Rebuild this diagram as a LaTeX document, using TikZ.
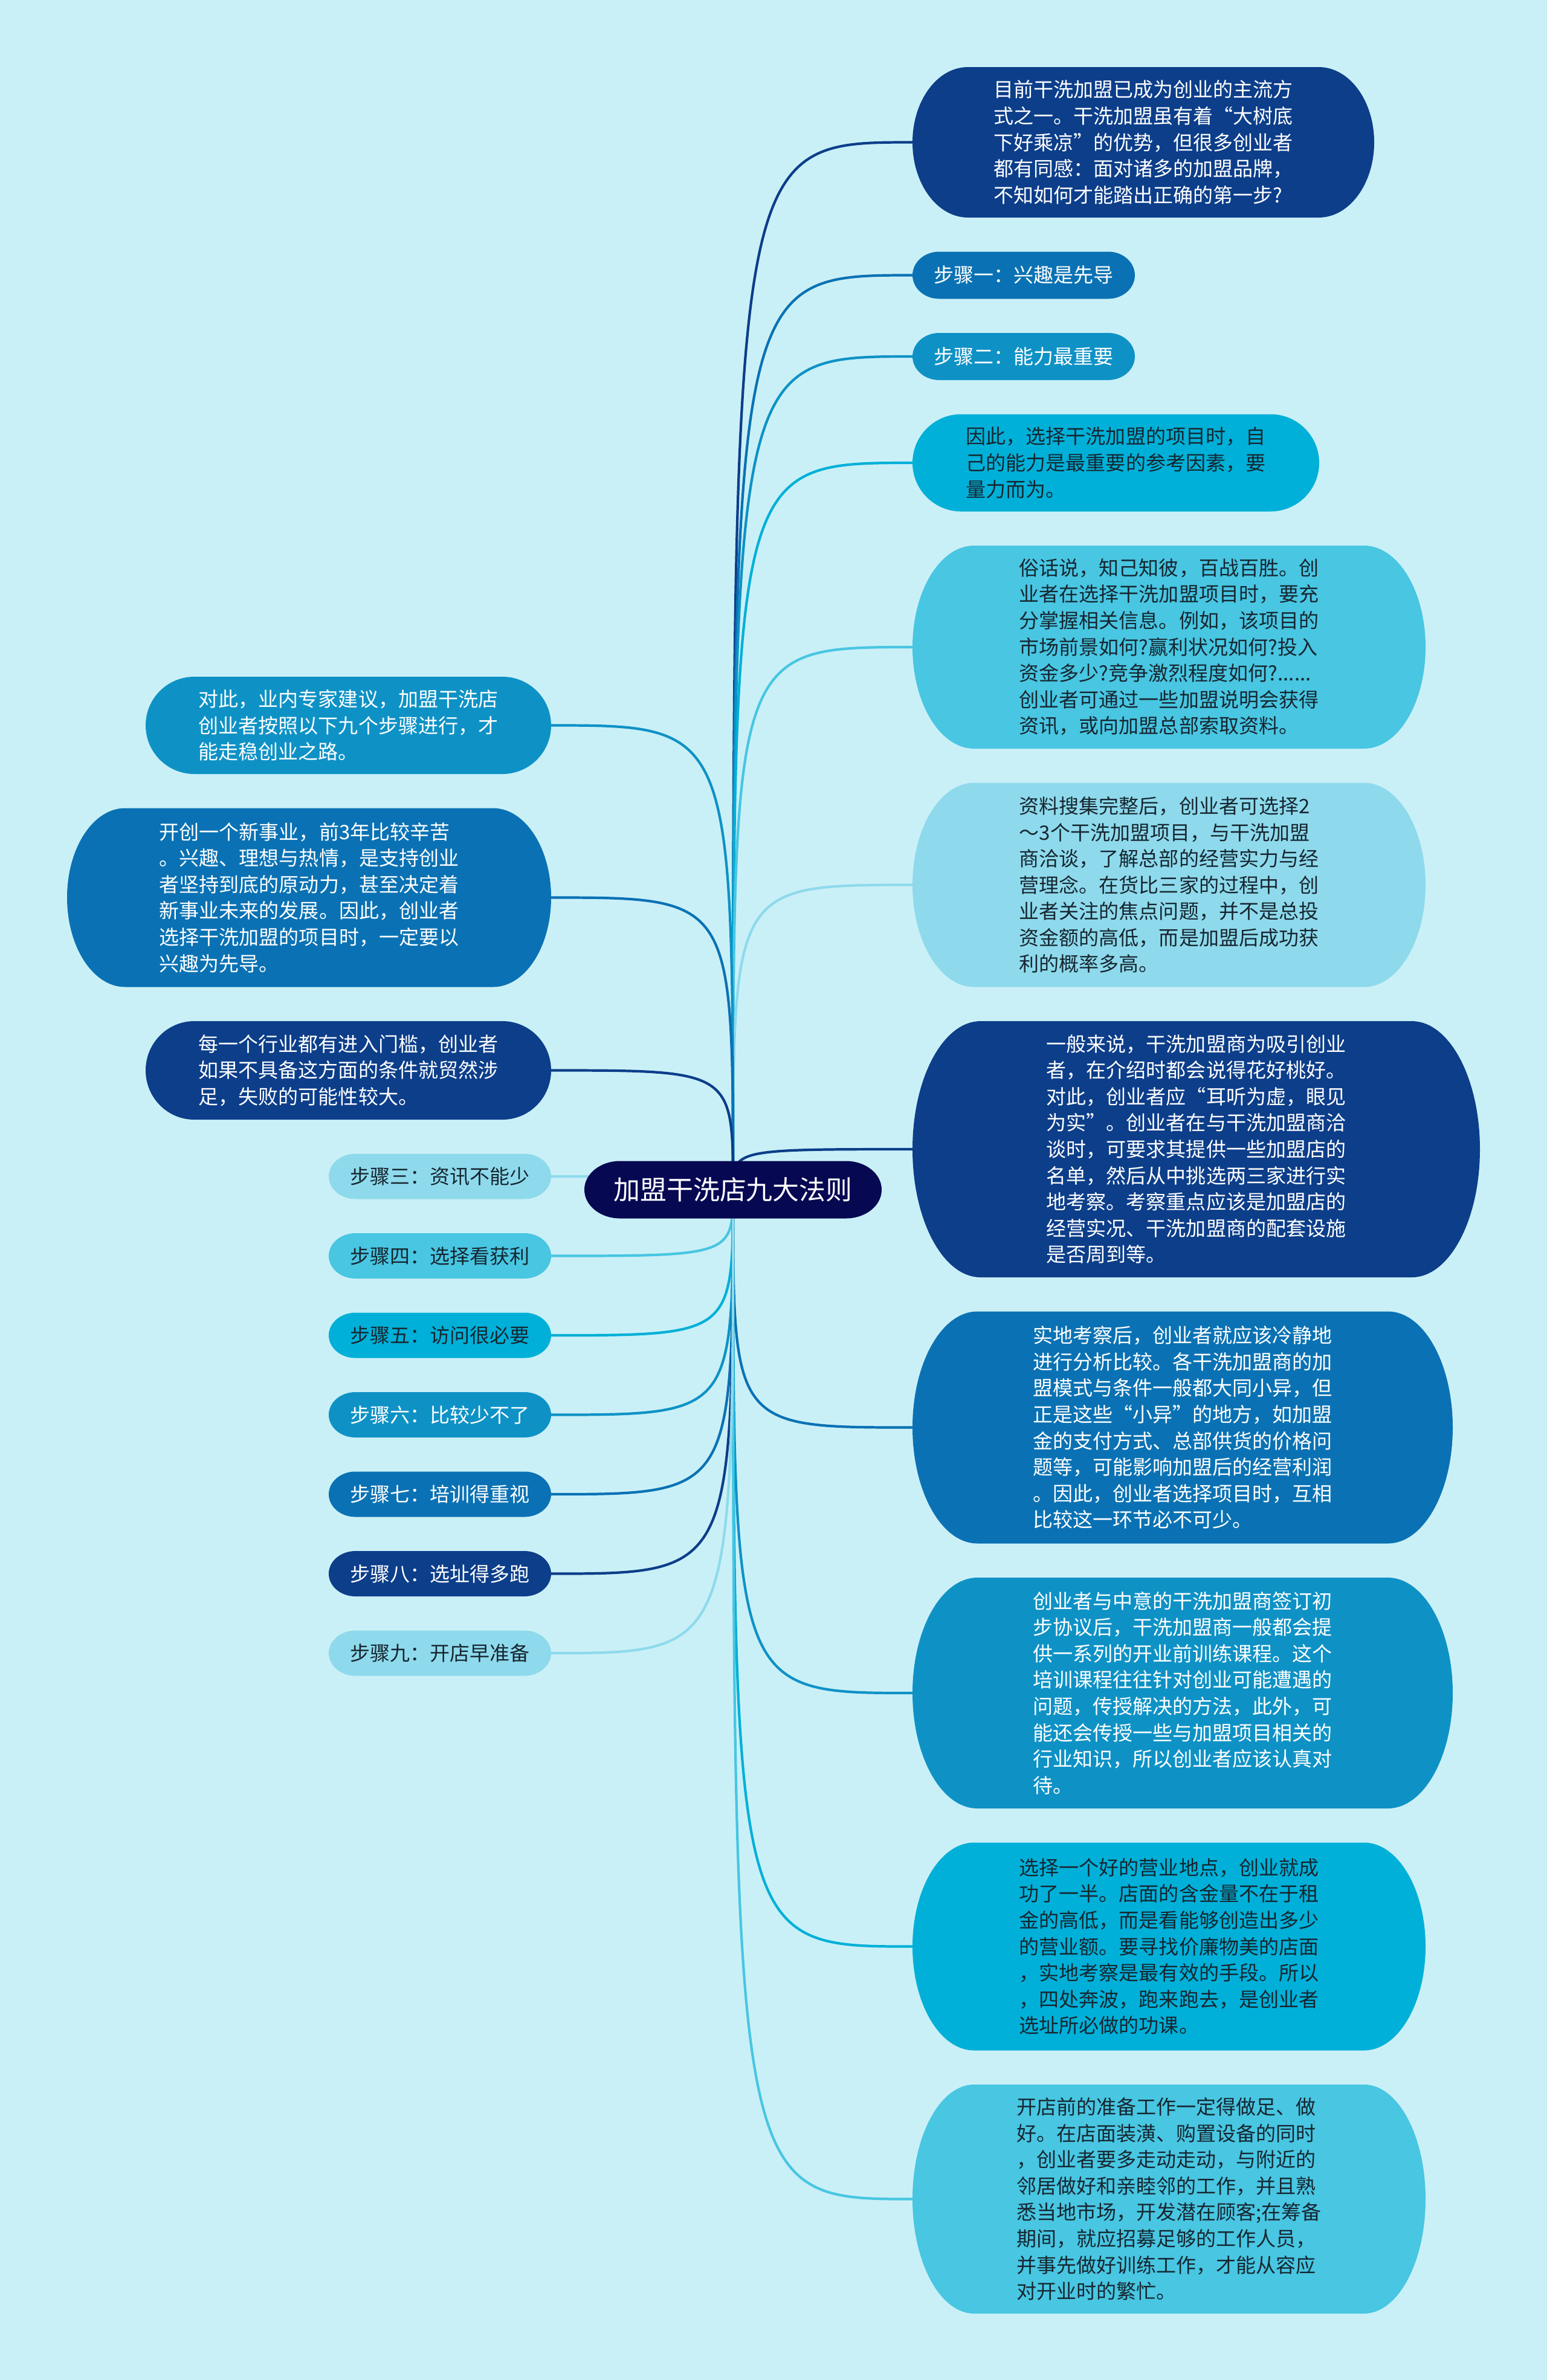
\documentclass[tikz,border=0pt]{standalone}
\usepackage{fontspec}
\setmainfont{Noto Sans CJK SC}
\usepackage{tikz}
\usetikzlibrary{positioning,calc}
\definecolor{mapbg}{RGB}{202,240,247}
\definecolor{rootnavy}{RGB}{6,8,82}
\definecolor{deepblue}{RGB}{12,62,138}
\definecolor{midblue}{RGB}{10,114,180}
\definecolor{skyblue}{RGB}{14,146,198}
\definecolor{cyanblue}{RGB}{0,176,216}
\definecolor{lightcyan}{RGB}{72,198,226}
\definecolor{paleblue}{RGB}{142,218,236}
\definecolor{inkdark}{RGB}{22,38,48}
\pgfdeclarelayer{bg}
\pgfdeclarelayer{edges}
\pgfdeclarelayer{bubbles}
\pgfsetlayers{bg,edges,bubbles,main}
% pill shaped backdrop for a named node
\newcommand{\pill}[2]{%
  \fill[#2] let \p1=(#1.north west), \p2=(#1.south east),
    \n1={0.12*(\x2-\x1)}, \n2={0.5*(\y1-\y2)} in
    (\x1+\n1,\y1) -- (\x2-\n1,\y1)
    arc[start angle=90, end angle=-90, x radius=\n1, y radius=\n2]
    -- (\x1+\n1,\y2)
    arc[start angle=270, end angle=90, x radius=\n1, y radius=\n2] -- cycle;}

\begin{document}
\begin{tikzpicture}[node distance=0.565cm,
  every node/.style={inner sep=0pt, outer sep=0pt},
  bubble/.style={align=left, font=\fontsize{9.4pt}{12.4pt}\selectfont},
  tag/.style={font=\fontsize{9.4pt}{12.4pt}\selectfont,
              minimum width=3.68cm, minimum height=0.75cm},
  onDark/.style={text=white},
  onLight/.style={text=inkdark},
  branch/.style={line width=1.2pt}]
\useasboundingbox (0,0) rectangle (25.6,-39.39);
\begin{pgfonlayer}{bg}
\fill[mapbg] (0,0) rectangle (25.6,-39.39);
\end{pgfonlayer}

\node[onDark, font=\fontsize{12.5pt}{15pt}\selectfont,
      minimum width=4.92cm, minimum height=0.95cm] (root) at (12.13,-19.69) {加盟干洗店九大法则};

% right column
\node[bubble, onDark, minimum width=7.64cm, minimum height=2.49cm,
      anchor=north west] (r1) at (15.10,-1.11)
  {目前干洗加盟已成为创业的主流方\\式之一。干洗加盟虽有着“大树底\\下好乘凉”的优势，但很多创业者\\都有同感：面对诸多的加盟品牌，\\不知如何才能踏出正确的第一步?};
\node[tag, onDark, minimum height=0.78cm, below=of r1.south west, anchor=north west] (r2) {步骤一：兴趣是先导};
\node[tag, onDark, minimum height=0.78cm, below=of r2.south west, anchor=north west] (r3) {步骤二：能力最重要};
\node[bubble, onLight, minimum width=6.73cm, minimum height=1.61cm,
      below=of r3.south west, anchor=north west] (r4)
  {因此，选择干洗加盟的项目时，自\\己的能力是最重要的参考因素，要\\量力而为。};
\node[bubble, onLight, minimum width=8.49cm, minimum height=3.36cm,
      below=of r4.south west, anchor=north west] (r5)
  {俗话说，知己知彼，百战百胜。创\\业者在选择干洗加盟项目时，要充\\分掌握相关信息。例如，该项目的\\市场前景如何?赢利状况如何?投入\\资金多少?竞争激烈程度如何?......\\创业者可通过一些加盟说明会获得\\资讯，或向加盟总部索取资料。};
\node[bubble, onLight, minimum width=8.49cm, minimum height=3.38cm,
      below=of r5.south west, anchor=north west] (r6)
  {资料搜集完整后，创业者可选择2\\～3个干洗加盟项目，与干洗加盟\\商洽谈，了解总部的经营实力与经\\营理念。在货比三家的过程中，创\\业者关注的焦点问题，并不是总投\\资金额的高低，而是加盟后成功获\\利的概率多高。};
\node[bubble, onDark, minimum width=9.39cm, minimum height=4.24cm,
      below=of r6.south west, anchor=north west] (r7)
  {一般来说，干洗加盟商为吸引创业\\者，在介绍时都会说得花好桃好。\\对此，创业者应“耳听为虚，眼见\\为实”。创业者在与干洗加盟商洽\\谈时，可要求其提供一些加盟店的\\名单，然后从中挑选两三家进行实\\地考察。考察重点应该是加盟店的\\经营实况、干洗加盟商的配套设施\\是否周到等。};
\node[bubble, onDark, minimum width=8.94cm, minimum height=3.84cm,
      below=of r7.south west, anchor=north west] (r8)
  {实地考察后，创业者就应该冷静地\\进行分析比较。各干洗加盟商的加\\盟模式与条件一般都大同小异，但\\正是这些“小异”的地方，如加盟\\金的支付方式、总部供货的价格问\\题等，可能影响加盟后的经营利润\\。因此，创业者选择项目时，互相\\比较这一环节必不可少。};
\node[bubble, onDark, minimum width=8.94cm, minimum height=3.82cm,
      below=of r8.south west, anchor=north west] (r9)
  {创业者与中意的干洗加盟商签订初\\步协议后，干洗加盟商一般都会提\\供一系列的开业前训练课程。这个\\培训课程往往针对创业可能遭遇的\\问题，传授解决的方法，此外，可\\能还会传授一些与加盟项目相关的\\行业知识，所以创业者应该认真对\\待。};
\node[bubble, onLight, minimum width=8.49cm, minimum height=3.44cm,
      below=of r9.south west, anchor=north west] (r10)
  {选择一个好的营业地点，创业就成\\功了一半。店面的含金量不在于租\\金的高低，而是看能够创造出多少\\的营业额。要寻找价廉物美的店面\\，实地考察是最有效的手段。所以\\，四处奔波，跑来跑去，是创业者\\选址所必做的功课。};
\node[bubble, onLight, minimum width=8.49cm, minimum height=3.79cm,
      below=of r10.south west, anchor=north west] (r11)
  {开店前的准备工作一定得做足、做\\好。在店面装潢、购置设备的同时\\，创业者要多走动走动，与附近的\\邻居做好和亲睦邻的工作，并且熟\\悉当地市场，开发潜在顾客;在筹备\\期间，就应招募足够的工作人员，\\并事先做好训练工作，才能从容应\\对开业时的繁忙。};

% left column
\node[bubble, onDark, minimum width=6.71cm, minimum height=1.61cm,
      anchor=north east] (l1) at (9.12,-11.20)
  {对此，业内专家建议，加盟干洗店\\创业者按照以下九个步骤进行，才\\能走稳创业之路。};
\node[bubble, onDark, minimum width=8.01cm, minimum height=2.96cm,
      below=of l1.south east, anchor=north east] (l2)
  {开创一个新事业，前3年比较辛苦\\。兴趣、理想与热情，是支持创业\\者坚持到底的原动力，甚至决定着\\新事业未来的发展。因此，创业者\\选择干洗加盟的项目时，一定要以\\兴趣为先导。};
\node[bubble, onDark, minimum width=6.71cm, minimum height=1.63cm,
      below=of l2.south east, anchor=north east] (l3)
  {每一个行业都有进入门槛，创业者\\如果不具备这方面的条件就贸然涉\\足，失败的可能性较大。};
\node[tag, onLight, below=of l3.south east, anchor=north east] (l4) {步骤三：资讯不能少};
\node[tag, onLight, below=of l4.south east, anchor=north east] (l5) {步骤四：选择看获利};
\node[tag, onLight, below=of l5.south east, anchor=north east] (l6) {步骤五：访问很必要};
\node[tag, onDark, below=of l6.south east, anchor=north east] (l7) {步骤六：比较少不了};
\node[tag, onDark, below=of l7.south east, anchor=north east] (l8) {步骤七：培训得重视};
\node[tag, onDark, below=of l8.south east, anchor=north east] (l9) {步骤八：选址得多跑};
\node[tag, onLight, below=of l9.south east, anchor=north east] (l10) {步骤九：开店早准备};

\begin{pgfonlayer}{bubbles}
\pill{root}{rootnavy}
\foreach \nd/\col in {r1/deepblue, r2/midblue, r3/skyblue, r4/cyanblue,
    r5/lightcyan, r6/paleblue, r7/deepblue, r8/midblue, r9/skyblue,
    r10/cyanblue, r11/lightcyan, l1/skyblue, l2/midblue, l3/deepblue,
    l4/paleblue, l5/lightcyan, l6/cyanblue, l7/skyblue, l8/midblue,
    l9/deepblue, l10/paleblue}
  {\pill{\nd}{\col}}
\end{pgfonlayer}

\begin{pgfonlayer}{edges}
\foreach \nd/\col in {r1/deepblue, r2/midblue, r3/skyblue, r4/cyanblue,
    r5/lightcyan, r6/paleblue, r7/deepblue, r8/midblue, r9/skyblue,
    r10/cyanblue, r11/lightcyan}
  \draw[branch, draw=\col] (root.center) .. controls (root.center |- \nd.west) .. (\nd.west);
\foreach \nd/\col in {l1/skyblue, l2/midblue, l3/deepblue, l4/paleblue,
    l5/lightcyan, l6/cyanblue, l7/skyblue, l8/midblue, l9/deepblue, l10/paleblue}
  \draw[branch, draw=\col] (root.center) .. controls (root.center |- \nd.east) .. (\nd.east);
\end{pgfonlayer}
\end{tikzpicture}
\end{document}
